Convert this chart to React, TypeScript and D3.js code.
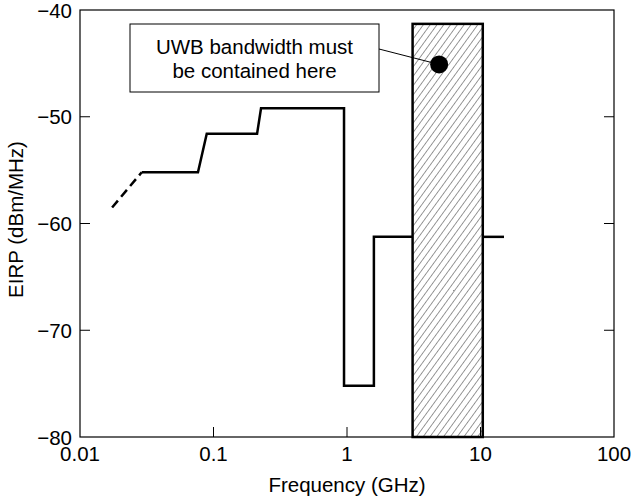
import React, { useEffect, useRef } from 'react';
import * as d3 from 'd3';

// Emission mask steps: [frequency GHz, EIRP dBm/MHz]
const dashedPart: [number, number][] = [[0.0174, -58.5], [0.029, -55.2]];
const maskPart: [number, number][] = [
  [0.029, -55.2], [0.0765, -55.2], [0.089, -51.6], [0.212, -51.6], [0.227, -49.2],
  [0.95, -49.2], [0.95, -75.2], [1.59, -75.2], [1.59, -61.25], [3.1, -61.25],
];
const tailPart: [number, number][] = [[10.4, -61.25], [15, -61.25]];
// UWB band rectangle
const bandRange = [3.1, 10.4];
const bandTop = -41.3;
const markerPoint: [number, number] = [4.9, -45.1];
const xTicks = [0.01, 0.1, 1, 10, 100];
const yTicks = [-80, -70, -60, -50, -40];
const noteLines = ['UWB bandwidth must', 'be contained here'];

function App() {
  const ref = useRef<SVGSVGElement>(null);

  useEffect(() => {
    const svg = d3.select(ref.current);
    svg.selectAll('*').remove();

    const margin = { top: 10, right: 18, bottom: 64, left: 80 },
      width = 632 - margin.left - margin.right,
      height = 501 - margin.top - margin.bottom;

    const font = 'Liberation Sans, Arial, sans-serif';
    const fs = 20.5;

    const defs = svg.append('defs');
    defs.append('pattern')
      .attr('id', 'hatch')
      .attr('patternUnits', 'userSpaceOnUse')
      .attr('width', 5.5)
      .attr('height', 5.5)
      .attr('patternTransform', 'rotate(36)')
      .append('line')
      .attr('x1', 0).attr('y1', 0).attr('x2', 0).attr('y2', 5.5)
      .attr('stroke', '#000')
      .attr('stroke-width', 0.8);

    const g = svg.append('g').attr('transform', `translate(${margin.left},${margin.top})`);

    const x = d3.scaleLog().domain([0.01, 100]).range([0, width]);
    const y = d3.scaleLinear().domain([-80, -40]).range([height, 0]);

    // frame
    g.append('rect')
      .attr('width', width).attr('height', height)
      .attr('fill', 'none').attr('stroke', '#000').attr('stroke-width', 1.2);

    // ticks (inward)
    const tl = 10;
    xTicks.slice(1, -1).forEach(t => {
      g.append('line').attr('x1', x(t)).attr('x2', x(t)).attr('y1', height).attr('y2', height - tl)
        .attr('stroke', '#000').attr('stroke-width', 1);
    });
    yTicks.slice(1, -1).forEach(t => {
      g.append('line').attr('x1', 0).attr('x2', tl).attr('y1', y(t)).attr('y2', y(t))
        .attr('stroke', '#000').attr('stroke-width', 1);
      g.append('line').attr('x1', width).attr('x2', width - tl).attr('y1', y(t)).attr('y2', y(t))
        .attr('stroke', '#000').attr('stroke-width', 1);
    });

    // tick labels
    g.selectAll('.xl').data(xTicks).join('text')
      .attr('x', d => x(d)).attr('y', height + 24)
      .attr('text-anchor', 'middle')
      .attr('font-family', font).attr('font-size', fs)
      .text(d => String(d));
    g.selectAll('.yl').data(yTicks).join('text')
      .attr('x', -8).attr('y', d => y(d) + 7.5)
      .attr('text-anchor', 'end')
      .attr('font-family', font).attr('font-size', fs)
      .text(d => '\u2212' + Math.abs(d));

    // axis titles
    g.append('text')
      .attr('x', x(1)).attr('y', height + 55)
      .attr('text-anchor', 'middle')
      .attr('font-family', font).attr('font-size', fs)
      .text('Frequency (GHz)');
    g.append('text')
      .attr('transform', `translate(${-57},${height / 2 - 4}) rotate(-90)`)
      .attr('text-anchor', 'middle')
      .attr('font-family', font).attr('font-size', fs)
      .text('EIRP (dBm/MHz)');

    // band rectangle
    g.append('rect')
      .attr('x', x(bandRange[0])).attr('y', y(bandTop))
      .attr('width', x(bandRange[1]) - x(bandRange[0]))
      .attr('height', height - y(bandTop))
      .attr('fill', 'url(#hatch)')
      .attr('stroke', '#000').attr('stroke-width', 2.5);

    const line = d3.line<[number, number]>().x(d => x(d[0])).y(d => y(d[1]));

    g.append('path').attr('d', line(dashedPart))
      .attr('fill', 'none').attr('stroke', '#000').attr('stroke-width', 2.5)
      .attr('stroke-dasharray', '9,5');
    [maskPart, tailPart].forEach(p => {
      g.append('path').attr('d', line(p))
        .attr('fill', 'none').attr('stroke', '#000').attr('stroke-width', 2.5);
    });

    // annotation box
    const bx = 50, by = 14, bw = 249, bh = 68;
    g.append('rect')
      .attr('x', bx).attr('y', by).attr('width', bw).attr('height', bh)
      .attr('fill', '#fff').attr('stroke', '#000').attr('stroke-width', 1);
    g.selectAll('.note').data(noteLines).join('text')
      .attr('x', bx + bw / 2).attr('y', (d, i) => by + 30 + i * 24)
      .attr('text-anchor', 'middle')
      .attr('font-family', font).attr('font-size', fs)
      .text(d => d);

    g.append('line')
      .attr('x1', bx + bw).attr('y1', by + 25)
      .attr('x2', x(markerPoint[0])).attr('y2', y(markerPoint[1]))
      .attr('stroke', '#000').attr('stroke-width', 1);
    g.append('circle')
      .attr('cx', x(markerPoint[0])).attr('cy', y(markerPoint[1])).attr('r', 9)
      .attr('fill', '#000');
  }, []);

  return <svg ref={ref} width={632} height={501} style={{ position: 'absolute', left: 0, top: 0 }} />;
}

export default App;
